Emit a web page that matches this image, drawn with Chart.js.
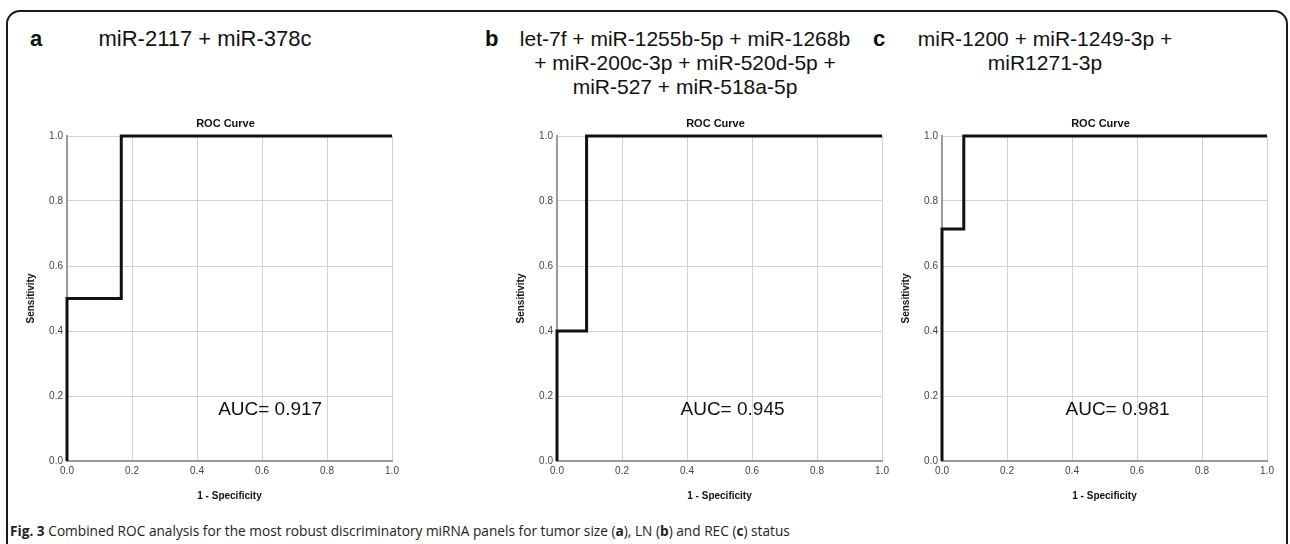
<!DOCTYPE html>
<html>
<head>
<meta charset="utf-8">
<script src="https://cdn.jsdelivr.net/npm/chart.js@4"></script>
<style>
  body { margin: 0; background: #fff; width: 1290px; height: 544px; overflow: hidden; position: relative; font-family: "Liberation Sans", Arial, sans-serif; }
  .frame { position: absolute; left: 6px; top: 10px; width: 1278px; height: 600px; border: 2px solid #1a1a1a; border-radius: 14px; }
  .letter { position: absolute; font-size: 22px; font-weight: bold; color: #111; }
  .title { position: absolute; font-size: 21px; color: #111; text-align: center; line-height: 24px; }
  .panel { position: absolute; top: 100px; width: 400px; height: 410px; }
  .caption { position: absolute; left: 10px; top: 520px; font-family: "Open Sans", sans-serif; font-size: 15px; color: #222; white-space: nowrap; transform-origin: 0 0; }
</style>
</head>
<body>
<div class="frame"></div>

<div class="letter" style="left:30px; top:26px;">a</div>
<div class="title" id="titleA" style="left:70px; width:270px; top:27px; font-size:22px;"></div>
<div class="letter" style="left:485px; top:26px;">b</div>
<div class="title" id="titleB" style="left:505px; width:360px; top:27px;"></div>
<div class="letter" style="left:873px; top:26px;">c</div>
<div class="title" id="titleC" style="left:900px; width:290px; top:27px;"></div>

<div class="panel" style="left:10px;"><canvas id="chartA" width="400" height="410"></canvas></div>
<div class="panel" style="left:500px;"><canvas id="chartB" width="400" height="410"></canvas></div>
<div class="panel" style="left:885px;"><canvas id="chartC" width="400" height="410"></canvas></div>

<div class="caption" id="caption"><b>Fig. 3</b> Combined ROC analysis for the most robust discriminatory miRNA panels for tumor size (<b>a</b>), LN (<b>b</b>) and REC (<b>c</b>) status</div>

<script>
// panel headings
const titlesA = ["miR-2117 + miR-378c"];
const titlesB = ["let-7f + miR-1255b-5p + miR-1268b", "+ miR-200c-3p + miR-520d-5p +", "miR-527 + miR-518a-5p"];
const titlesC = ["miR-1200 + miR-1249-3p +", "miR1271-3p"];

// ROC curve points (1 - specificity, sensitivity)
const fprA = [0, 0, 0.167, 0.167, 1];
const tprA = [0, 0.5, 0.5, 1, 1];
const fprB = [0, 0, 0.091, 0.091, 1];
const tprB = [0, 0.4, 0.4, 1, 1];
const fprC = [0, 0, 0.067, 0.067, 1];
const tprC = [0, 0.714, 0.714, 1, 1];

const aucA = "AUC= 0.917";
const aucB = "AUC= 0.945";
const aucC = "AUC= 0.981";

const tickValues = [0, 0.2, 0.4, 0.6, 0.8, 1.0];

document.getElementById('titleA').innerHTML = titlesA.join('<br>');
document.getElementById('titleB').innerHTML = titlesB.join('<br>');
document.getElementById('titleC').innerHTML = titlesC.join('<br>');

// draws "ROC Curve" over the plot and the AUC text inside it
const rocText = {
    id: 'rocText',
    afterDatasetsDraw(chart, args, opts) {
        const ctx = chart.ctx;
        const area = chart.chartArea;
        ctx.save();
        ctx.fillStyle = '#111';
        ctx.font = 'bold 11px "Liberation Sans", Arial';
        ctx.textAlign = 'center';
        ctx.textBaseline = 'middle';
        ctx.fillText('ROC Curve', (area.left + area.right) / 2 - 4, area.top - 12);
        ctx.font = '19px "Liberation Sans", Arial';
        ctx.textAlign = 'left';
        ctx.fillText(opts.auc, chart.scales.x.getPixelForValue(opts.ax), chart.scales.y.getPixelForValue(opts.ay));
        ctx.restore();
    }
};

function makeRoc(id, fpr, tpr, auc, ax) {
    let points = fpr.map((x, i) => ({ x: x, y: tpr[i] }));
    let axisFont = { family: '"Liberation Sans", Arial', size: 10, weight: 'bold' };
    let tickFont = { family: '"Liberation Sans", Arial', size: 10 };
    return new Chart(document.getElementById(id), {
        type: 'scatter',
        data: {
            datasets: [{
                data: points,
                showLine: true,
                borderColor: '#111',
                borderWidth: 3,
                pointRadius: 0,
                clip: false
            }]
        },
        options: {
            responsive: false,
            animation: false,
            devicePixelRatio: 1,
            layout: { padding: { left: 0, right: 18, top: 36, bottom: 4 } },
            plugins: {
                legend: { display: false },
                tooltip: { enabled: false },
                rocText: { auc: auc, ax: ax, ay: 0.157 }
            },
            scales: {
                x: {
                    type: 'linear', min: 0, max: 1,
                    afterBuildTicks: s => { s.ticks = tickValues.map(v => ({ value: v })); },
                    afterFit: s => { s.height = 45; },
                    grid: { color: '#d2d2d2', lineWidth: 1, drawTicks: false },
                    border: { color: '#9a9a9a', width: 2 },
                    ticks: { font: tickFont, color: '#444', padding: 4, maxRotation: 0, callback: v => v.toFixed(1) },
                    title: { display: true, text: '1 - Specificity', font: axisFont, color: '#111', padding: { top: 0, bottom: 4 } }
                },
                y: {
                    type: 'linear', min: 0, max: 1,
                    afterBuildTicks: s => { s.ticks = tickValues.map(v => ({ value: v })); },
                    afterFit: s => { s.width = 57; },
                    grid: { color: '#d2d2d2', lineWidth: 1, drawTicks: false },
                    border: { color: '#9a9a9a', width: 2 },
                    ticks: { font: tickFont, color: '#444', padding: 4, callback: v => v.toFixed(1) },
                    title: { display: true, text: 'Sensitivity', font: axisFont, color: '#111', padding: { top: 15, bottom: 0 } }
                }
            }
        },
        plugins: [rocText]
    });
}

makeRoc('chartA', fprA, tprA, aucA, 0.465);
makeRoc('chartB', fprB, tprB, aucB, 0.38);
makeRoc('chartC', fprC, tprC, aucC, 0.38);

// squeeze caption to the condensed width of the original
const cap = document.getElementById('caption');
cap.style.transform = 'scaleX(' + (780 / cap.offsetWidth) + ')';
</script>
</body>
</html>
